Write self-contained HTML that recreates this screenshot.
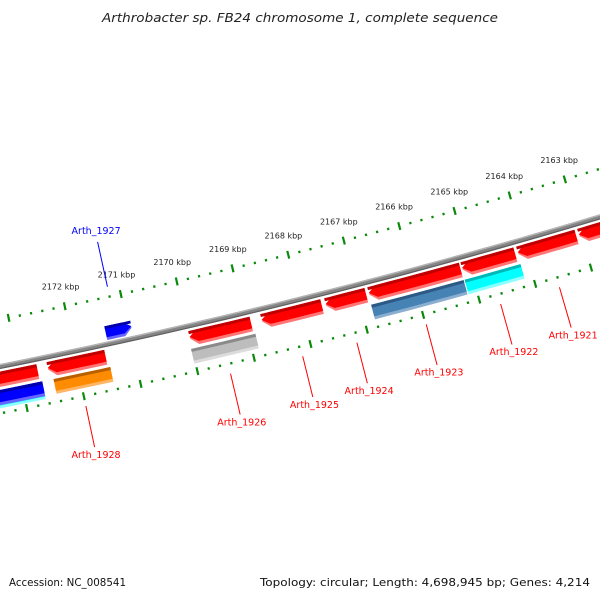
<!DOCTYPE html>
<html><head><meta charset="utf-8"><style>
html,body{margin:0;padding:0;background:#fff}
svg{display:block}
text{font-family:"DejaVu Sans","Liberation Sans",sans-serif}
</style></head><body>
<svg id="map" width="600" height="600" viewBox="0 0 600 600" xmlns="http://www.w3.org/2000/svg">
<rect width="600" height="600" fill="#fff"/>
<text x="300" y="22" text-anchor="middle" font-size="12.5" font-style="italic" fill="#222" textLength="396" lengthAdjust="spacingAndGlyphs">Arthrobacter sp. FB24 chromosome 1, complete sequence</text>
<text x="9" y="586" font-size="11" fill="#111" textLength="117" lengthAdjust="spacingAndGlyphs">Accession: NC_008541</text>
<text x="590" y="586" text-anchor="end" font-size="11" fill="#111" textLength="330" lengthAdjust="spacingAndGlyphs">Topology: circular; Length: 4,698,945 bp; Genes: 4,214</text>
<g id="ticks"></g>
<g id="bb"></g>
<g id="feats"></g>
<g id="labels"></g>
</svg>
<script>
// data (kbp)
const tickKbp = [2163,2164,2165,2166,2167,2168,2169,2170,2171,2172];
const tickLabels = ["2163 kbp","2164 kbp","2165 kbp","2166 kbp","2167 kbp","2168 kbp","2169 kbp","2170 kbp","2171 kbp","2172 kbp"];
const featStart = [2172.69,2171.49,2168.91,2167.65,2166.86,2165.17,2164.19,2163.09,2162.0,2172.65,2172.65,2171.45,2168.88,2165.17,2164.15,2170.94];
const featEnd   = [2174.0,2172.51,2170.0,2168.72,2167.58,2166.81,2165.14,2164.14,2163.04,2174.0,2174.0,2172.45,2170.02,2166.82,2165.15,2171.4];
const featLane  = [1,1,1,1,1,1,1,1,1,3,2,2,2,2,2,0];
const featColor = ["red","red","red","red","red","red","red","red","red","cyan","blue","orange","grey","steel","cyan","blue"];
const featArrow = ["left","left","left","left","left","left","left","left","left","none","none","none","none","none","none","right"];
const labelText = ["Arth_1928","Arth_1926","Arth_1925","Arth_1924","Arth_1923","Arth_1922","Arth_1921","Arth_1927"];
const labelKbp  = [2172.0,2169.455,2168.18,2167.22,2165.99,2164.665,2163.615,2171.2];
const labelSide = [1,1,1,1,1,1,1,-1];

const NS="http://www.w3.org/2000/svg";
const CX=-1288, CY=-6076, RB=6570;
function phi(k){return (11.967+(2172-k)*0.5036)*Math.PI/180;}
function pt(k,r){const a=phi(k);return [CX+r*Math.sin(a),CY+r*Math.cos(a)];}
function arc(k1,k2,r,n){const p=[];for(let i=0;i<=n;i++){p.push(pt(k1+(k2-k1)*i/n,r));}return p;}
function mk(tag,attrs,parent){const e=document.createElementNS(NS,tag);for(const k in attrs)e.setAttribute(k,attrs[k]);parent.appendChild(e);return e;}
const fmt=p=>p.map(q=>q[0].toFixed(2)+","+q[1].toFixed(2)).join(" ");

// backbone
const bb=document.getElementById('bb');
[[RB,"#858585",5],[RB-1.8,"#b5b5b5",1.4],[RB+1.9,"#606060",1.2]].forEach(s=>{
  const l=mk('polyline',{points:fmt(arc(2161,2174.5,s[0],40)),fill:"none",stroke:s[1],"stroke-width":s[2]},bb);
  
  
});

// ticks
const tg=document.getElementById('ticks');
const ringR=[RB-46,RB+46];
ringR.forEach((r,ri)=>{
  for(let m=2161*5;m<=2174.5*5;m++){
    const k=m/5, major=(m%5===0);
    const h=major?4:1.2;
    const a=pt(k,r-h), b=pt(k,r+h);
    const t=mk('line',{x1:a[0],y1:a[1],x2:b[0],y2:b[1],stroke:"#0a8a0a","stroke-width":2.2},tg);
    
    
  }
});
tickKbp.forEach((k,i)=>{
  const p=pt(k,RB-46-20);
  const t=mk('text',{x:p[0],y:p[1]+3,"text-anchor":"middle","font-size":"8",fill:"#222"},tg);
  t.textContent=tickLabels[i];
  
  
});

// features
const COLS={red:["#c00000","#ff0000","#ff7575"],orange:["#b86000","#ff8c00","#ffb566"],grey:["#8a8a8a","#bdbdbd","#dcdcdc"],
 steel:["#2c5a85","#4682b4","#8aaed0"],cyan:["#00b8b8","#00ffff","#8affff"],blue:["#0000a8","#0000ff","#6666ff"]};
const LANES={0:[-18,-4],1:[5,20],2:[23,38],3:[28,41]};
const fg=document.getElementById('feats');
function featPoly(s,e,r1,r2,arrow){
  const head=8/57.3, rm=(r1+r2)/2;
  let lo=s,hi=e;
  if(arrow==="left"){hi=Math.max(s,e-head);}
  if(arrow==="right"){lo=Math.min(e,s+head);}
  let p=arc(lo,hi,r1,6);
  if(arrow==="left")p.push(pt(e,rm));
  p=p.concat(arc(hi,lo,r2,6));
  if(arrow==="right")p.push(pt(s,rm));
  return p;
}
featStart.forEach((s,i)=>{
  const e=featEnd[i],lane=LANES[featLane[i]],c=COLS[featColor[i]],ar=featArrow[i];
  const g=mk('g',{},fg);
  
  
  const r1=lane[0],r2=lane[1],h=r2-r1;
  mk('polygon',{points:fmt(featPoly(s,e,RB+r1,RB+r2,ar)),fill:c[2]},g);
  mk('polygon',{points:fmt(featPoly(s,e,RB+r1,RB+r2-h*0.2,ar)),fill:c[1]},g);
  mk('polygon',{points:fmt(featPoly(s,e,RB+r1,RB+r1+h*0.2,"none")),fill:c[0]},g);
});

// labels
const lg=document.getElementById('labels');
labelText.forEach((t,i)=>{
  const sd=labelSide[i], k=labelKbp[i];
  const a=pt(k,RB+sd*56), b=pt(k,RB+sd*(sd>0?98:102)), c=pt(k,RB+sd*(sd>0?105:109));
  const col=sd>0?"#ff0000":"#0000ff";
  const l=mk('line',{x1:a[0],y1:a[1],x2:b[0],y2:b[1],stroke:col,"stroke-width":1},lg);
  
  
  const tx=mk('text',{x:c[0],y:c[1]+(sd>0?4:-1),"text-anchor":"middle","font-size":"9.5",fill:col},lg);
  tx.textContent=t;
  
  
});
</script>
</body></html>
